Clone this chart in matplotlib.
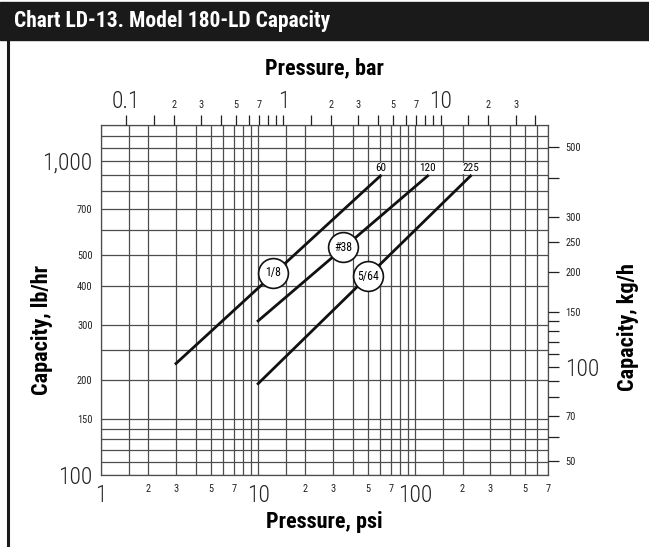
import matplotlib
matplotlib.use("Agg")
import matplotlib.pyplot as plt
from matplotlib import font_manager
from matplotlib.ticker import FixedLocator, NullFormatter
from matplotlib.patches import Rectangle
from matplotlib.lines import Line2D

# condensed face, the original uses a condensed grotesque
names = set(f.name for f in font_manager.fontManager.ttflist)
narrow = 'Roboto Condensed' if 'Roboto Condensed' in names else 'Liberation Sans'
plt.rcParams['font.family'] = [narrow, 'DejaVu Sans']

PSI_PER_BAR = 14.5038
LB_PER_KG = 2.20462

# capacity lines, pressure psi vs capacity lb/hr
psi_18 = [3, 60]
cap_18 = [226, 895]
psi_38 = [10, 120]
cap_38 = [309, 895]
psi_564 = [10, 225]
cap_564 = [195, 895]

end_labels = ['60', '120', '225']
orifice_names = ['1/8', '#38', '5/64']
orifice_psi = [12.4, 34.6, 50]
orifice_cap = [440, 530, 429]

# grid
x_grid = [1, 1.5, 2, 3, 4, 5, 6, 7, 8, 9, 10, 15, 20, 30, 40, 50, 60, 70, 80, 90,
          100, 150, 200, 300, 400, 500, 600, 700]
y_grid = [100, 110, 120, 130, 140, 150, 200, 250, 300, 400, 500, 600, 700, 800,
          900, 1000, 1100, 1200, 1300]

# axis labels
psi_ticks = [1, 2, 3, 5, 7, 10, 20, 30, 50, 70, 100, 200, 300, 500, 700]
psi_labels = ['1', '2', '3', '5', '7', '10', '2', '3', '5', '7', '100', '2', '3', '5', '7']
lb_ticks = [100, 150, 200, 300, 400, 500, 700, 1000]
lb_labels = ['100', '150', '200', '300', '400', '500', '700', '1,000']
bar_ticks = [0.1, 0.15, 0.2, 0.3, 0.4, 0.5, 0.6, 0.7, 0.8, 0.9,
             1, 1.5, 2, 3, 4, 5, 6, 7, 8, 9, 10, 15, 20, 30, 40]
bar_labels = ['0.1', '', '2', '3', '', '5', '', '7', '', '',
              '1', '', '2', '3', '', '5', '', '7', '', '', '10', '', '2', '3', '']
kg_ticks = [50, 60, 70, 80, 90, 100, 110, 120, 130, 140, 150, 200, 250, 300, 400, 500]
kg_labels = ['50', '', '70', '', '', '100', '', '', '', '', '150', '200', '250', '300', '', '500']
big = ['1', '10', '100', '1,000', '0.1']

W, H = 649, 547
fig = plt.figure(figsize=(W / 100, H / 100), dpi=100)

# header bar + left border
fig.patches.append(Rectangle((0, 1 - 40 / H), 1, 38 / H, transform=fig.transFigure,
                             color='#1a1a1a', zorder=0))
fig.text(14 / W, 1 - 21 / H, 'Chart LD-13. Model 180-LD Capacity', color='white',
         fontsize=15.5, fontweight='bold', va='center', ha='left')
fig.lines.append(Line2D([7.5 / W, 7.5 / W], [0, 1 - 40 / H], transform=fig.transFigure,
                        color='#1a1a1a', lw=2.2))

ax = fig.add_axes([101 / W, 72.3 / H, 447 / W, 349.7 / H])
ax.set_xscale('log')
ax.set_yscale('log')
ax.set_xlim(1, 700)
ax.set_ylim(100, 1300)

gc = '#4d4d4d'
ax.xaxis.set_minor_locator(FixedLocator(x_grid))
ax.yaxis.set_minor_locator(FixedLocator(y_grid))
ax.xaxis.set_minor_formatter(NullFormatter())
ax.yaxis.set_minor_formatter(NullFormatter())
ax.xaxis.remove_overlapping_locs = False
ax.yaxis.remove_overlapping_locs = False
ax.grid(which='minor', color=gc, lw=0.9)
ax.set_axisbelow(True)
for s in ax.spines.values():
    s.set_color(gc)
    s.set_linewidth(0.9)

ax.set_xticks(psi_ticks, psi_labels)
ax.set_yticks(lb_ticks, lb_labels)
ax.tick_params(which='both', length=0, colors='#222222')
ax.tick_params(axis='x', pad=7)
ax.tick_params(axis='y', pad=6)
for lbl in ax.get_xticklabels() + ax.get_yticklabels():
    if lbl.get_text() in big:
        lbl.set_fontsize(17)
        lbl.set_fontweight('light')
    else:
        lbl.set_fontsize(7.5)

ax.plot(psi_18, cap_18, color='#111111', lw=2.0, zorder=3)
ax.plot(psi_38, cap_38, color='#111111', lw=2.0, zorder=3)
ax.plot(psi_564, cap_564, color='#111111', lw=2.0, zorder=3)

ends = [(psi_18[-1], cap_18[-1]), (psi_38[-1], cap_38[-1]), (psi_564[-1], cap_564[-1])]
for (px, cy), t in zip(ends, end_labels):
    ax.annotate(t, (px, cy), xytext=(0, 2), textcoords='offset points', ha='center',
                va='bottom', fontsize=8, zorder=5,
                bbox=dict(boxstyle='square,pad=0.05', fc='white', ec='none'))

ax.scatter(orifice_psi, orifice_cap, s=460, facecolor='white', edgecolor='#111111',
           linewidth=1.2, zorder=4)
for px, cy, t in zip(orifice_psi, orifice_cap, orifice_names):
    ax.text(px, cy, t, ha='center', va='center', fontsize=8.5, zorder=5)

ax.set_xlabel('Pressure, psi', fontsize=16, fontweight='bold', va='center')
ax.xaxis.set_label_coords(0.5, -(522 - 474.7) / 349.7)
ax.set_ylabel('Capacity, lb/hr', fontsize=16, fontweight='bold', va='center')
ax.yaxis.set_label_coords(-(101 - 42) / 447, (474.7 - 330) / 349.7)

# top axis in bar
axt = ax.twiny()
axt.set_xscale('log')
axt.set_xlim(1 / PSI_PER_BAR, 700 / PSI_PER_BAR)
axt.set_xticks(bar_ticks, bar_labels)
axt.xaxis.set_minor_locator(FixedLocator([]))
axt.tick_params(axis='x', length=7.3, width=0.9, direction='out', colors='#222222')
for tick in axt.xaxis.get_major_ticks():
    if tick.label2.get_text() in big:
        tick.label2.set_fontsize(17)
        tick.label2.set_fontweight('light')
        tick.set_pad(1.0)
    else:
        tick.label2.set_fontsize(7.5)
        tick.set_pad(3.5)
axt.set_xlabel('Pressure, bar', fontsize=16, fontweight='bold', va='center')
axt.xaxis.set_label_coords(0.5, 1 + (125 - 68) / 349.7)

# right axis in kg/h
axr = ax.twinx()
axr.set_yscale('log')
axr.set_ylim(100 / LB_PER_KG, 1300 / LB_PER_KG)
axr.set_yticks(kg_ticks, kg_labels)
axr.yaxis.set_minor_locator(FixedLocator([]))
axr.tick_params(axis='y', length=8, width=0.9, direction='out', pad=4.5, colors='#222222')
for lbl in axr.get_yticklabels():
    if lbl.get_text() in big:
        lbl.set_fontsize(17)
        lbl.set_fontweight('light')
    else:
        lbl.set_fontsize(7.5)
axr.set_ylabel('Capacity, kg/h', fontsize=16, fontweight='bold', va='center')
axr.yaxis.set_label_coords(1 + (628 - 548) / 447, (474.7 - 327) / 349.7)

for a in (axt, axr):
    for s in a.spines.values():
        s.set_visible(False)

fig.savefig('out.png', dpi=100)
